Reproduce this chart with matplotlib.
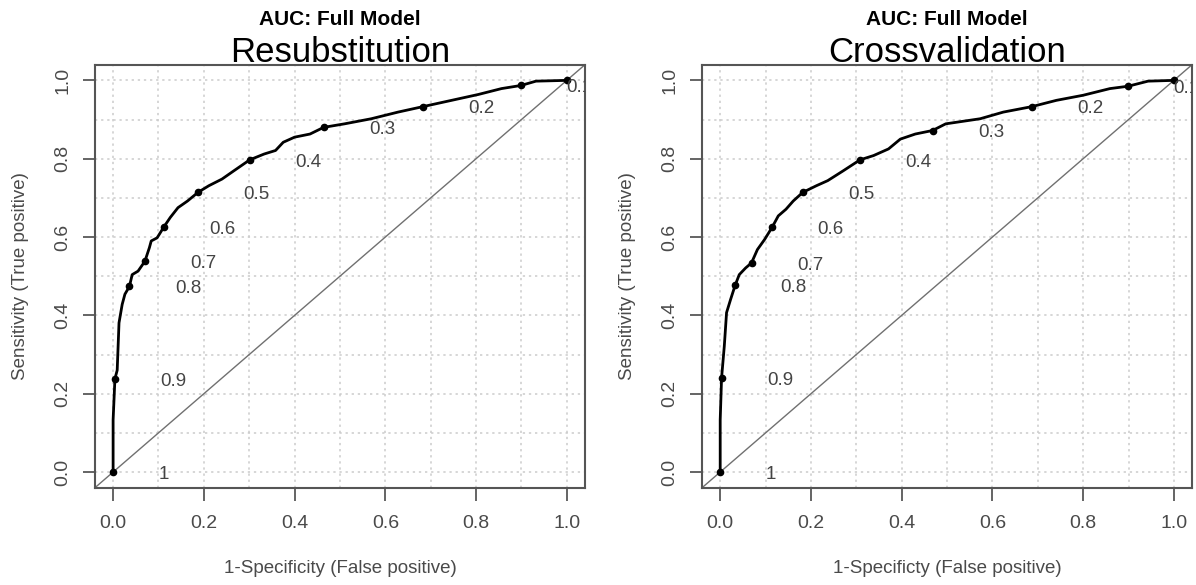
import numpy as np
import matplotlib
matplotlib.use('Agg')
import matplotlib.pyplot as plt

plt.rcParams['font.family'] = ['Liberation Sans', 'DejaVu Sans']

# ROC-криві (1-специфічність, чутливість), зчитані вздовж лінії.
resub_fpr = [0.0, 0.0, 0.004, 0.009, 0.013, 0.02, 0.026, 0.036, 0.042, 0.055,
             0.07, 0.08, 0.084, 0.097, 0.112, 0.126, 0.143, 0.164, 0.187,
             0.211, 0.24, 0.266, 0.301, 0.333, 0.358, 0.375, 0.4, 0.434,
             0.464, 0.51, 0.569, 0.628, 0.683, 0.746, 0.805, 0.856, 0.899,
             0.932, 1.0]
resub_tpr = [0.0, 0.133, 0.238, 0.26, 0.381, 0.428, 0.454, 0.474, 0.504, 0.513,
             0.538, 0.573, 0.59, 0.598, 0.626, 0.65, 0.675, 0.692, 0.714,
             0.731, 0.748, 0.769, 0.797, 0.812, 0.821, 0.842, 0.855, 0.863,
             0.88, 0.889, 0.902, 0.919, 0.933, 0.949, 0.964, 0.979, 0.987,
             0.998, 1.0]

cv_fpr = [0.0, 0.0, 0.003, 0.009, 0.014, 0.023, 0.033, 0.042, 0.056, 0.069,
          0.082, 0.098, 0.115, 0.128, 0.145, 0.161, 0.182, 0.212, 0.237,
          0.271, 0.308, 0.338, 0.371, 0.397, 0.43, 0.468, 0.497, 0.573,
          0.624, 0.687, 0.741, 0.8, 0.859, 0.899, 0.943, 1.0]
cv_tpr = [0.0, 0.133, 0.24, 0.321, 0.407, 0.441, 0.477, 0.504, 0.521, 0.534,
          0.568, 0.594, 0.626, 0.654, 0.671, 0.692, 0.714, 0.731, 0.744,
          0.769, 0.797, 0.808, 0.825, 0.85, 0.863, 0.872, 0.889, 0.902,
          0.919, 0.933, 0.949, 0.962, 0.979, 0.985, 0.998, 1.0]

# Порогові значення та відповідні точки на кривих.
cutoff_labels = ['1', '0.9', '0.8', '0.7', '0.6', '0.5', '0.4', '0.3', '0.2',
                 '0.1', '0']
resub_cut_fpr = [0.0, 0.004, 0.036, 0.07, 0.112, 0.187, 0.301, 0.464, 0.683,
                 0.899, 1.0]
resub_cut_tpr = [0.0, 0.238, 0.474, 0.538, 0.626, 0.714, 0.797, 0.88, 0.933,
                 0.987, 1.0]
cv_cut_fpr = [0.0, 0.003, 0.033, 0.069, 0.115, 0.182, 0.308, 0.468, 0.687,
              0.899, 1.0]
cv_cut_tpr = [0.0, 0.24, 0.477, 0.534, 0.626, 0.714, 0.797, 0.872, 0.933,
              0.985, 1.0]

ticks = [0.0, 0.2, 0.4, 0.6, 0.8, 1.0]
tick_labels = ['0.0', '0.2', '0.4', '0.6', '0.8', '1.0']

panels = [
    ('Resubstitution', '1-Specificity (False positive)',
     resub_fpr, resub_tpr, resub_cut_fpr, resub_cut_tpr),
    ('Crossvalidation', '1-Specificty (False positive)',
     cv_fpr, cv_tpr, cv_cut_fpr, cv_cut_tpr),
]

GREY = '#4a4a4a'

fig = plt.figure(figsize=(11.96, 5.85), dpi=100)
lefts = [0.0794, 0.587]

for left, (sub, xlab, fpr, tpr, cfpr, ctpr) in zip(lefts, panels):
    ax = fig.add_axes([left, 0.1663, 0.4097, 0.7231])
    ax.set_xlim(-0.04, 1.04)
    ax.set_ylim(-0.04, 1.04)

    # Сітка з кроком 0.1
    for g in np.arange(0, 1.01, 0.1):
        ax.axvline(g, color='#cccccc', lw=1.1, ls=(0, (1.5, 2.5)), zorder=0)
        ax.axhline(g, color='#cccccc', lw=1.1, ls=(0, (1.5, 2.5)), zorder=0)

    ax.axline((0, 0), (1, 1), color='#707070', lw=1.0, zorder=1)

    ax.plot(fpr, tpr, color='black', lw=2.0, zorder=3)
    ax.plot(cfpr, ctpr, 'o', color='black', ms=4.5, zorder=4)

    # Підписи порогів (праворуч від точок, обрізаються рамкою)
    for xc, yc, lab in zip(cfpr, ctpr, cutoff_labels):
        ax.text(xc + 0.1, yc - 0.006, lab, ha='left', va='center',
                fontsize=13.5, color='#444444', clip_on=True, zorder=5)

    ax.set_xticks(ticks)
    ax.set_xticklabels(tick_labels)
    ax.set_yticks(ticks)
    ax.set_yticklabels(tick_labels, rotation=90, va='center')
    ax.tick_params(direction='out', length=9, width=1.2, color=GREY,
                   labelcolor=GREY, labelsize=14)
    ax.tick_params(axis='x', pad=11)
    ax.tick_params(axis='y', pad=8)
    for sp in ax.spines.values():
        sp.set_color('#555555')
        sp.set_linewidth(1.5)

    ax.set_xlabel(xlab, fontsize=13.5, color=GREY)
    ax.set_ylabel('Sensitivity (True positive)', fontsize=13.5, color=GREY)
    ax.xaxis.set_label_coords(0.5, -0.17)
    ax.yaxis.set_label_coords(-0.135, 0.5)

    cx = left + 0.4097 / 2
    fig.text(cx, 0.966, 'AUC: Full Model', ha='center', va='center',
             fontsize=15, fontweight='bold', color='black')
    fig.text(cx, 0.894, sub, ha='center', va='baseline', fontsize=25,
             color='black')

fig.savefig('out.png', dpi=100)
